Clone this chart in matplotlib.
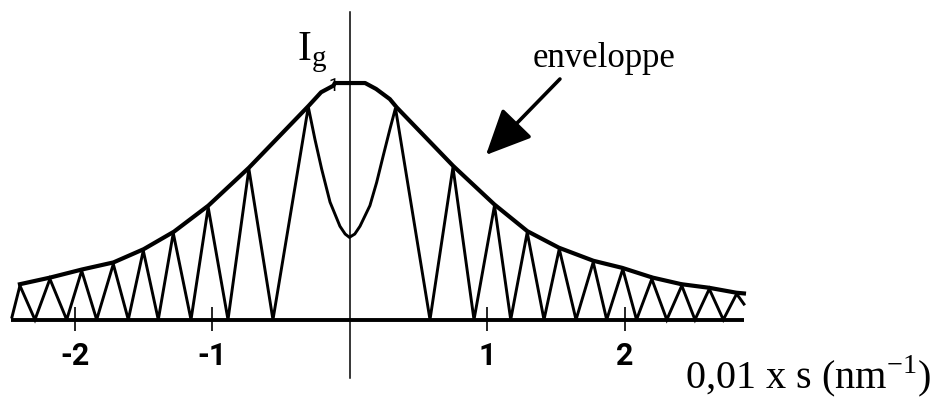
import matplotlib
matplotlib.use("Agg")
import matplotlib.pyplot as plt

plt.rcParams['font.family'] = ['Liberation Serif', 'DejaVu Serif']

# enveloppe (courbe lisse) : s en unites de 0,01 nm-1, I_g normalise
env_s = [-2.40, -2.18, -1.95, -1.72, -1.50, -1.28, -1.03, -0.735, -0.30,
         -0.21, -0.12, -0.11, 0.11, 0.19, 0.29, 0.34, 0.75, 1.05, 1.29,
         1.52, 1.77, 1.98, 2.20, 2.41, 2.61, 2.81, 2.865]
env_i = [0.150, 0.178, 0.212, 0.242, 0.298, 0.372, 0.482, 0.642, 0.904,
         0.961, 0.989, 1.0, 1.0, 0.975, 0.932, 0.897, 0.650, 0.487, 0.374,
         0.304, 0.249, 0.219, 0.178, 0.150, 0.135, 0.114, 0.111]

# intensite diffractee I_g(s) : zeros, maxima et forme du lobe central
ig_s = [-2.458, -2.40, -2.291, -2.182, -2.06, -1.951, -1.842, -1.721,
        -1.612, -1.503, -1.394, -1.285, -1.156, -1.031, -0.887, -0.735,
        -0.56, -0.303, -0.255, -0.206, -0.145, -0.073, -0.035, -0.004,
        0.035, 0.073, 0.145, 0.194, 0.242, 0.291, 0.331, 0.582, 0.749,
        0.902, 1.051, 1.169, 1.289, 1.411, 1.522, 1.644, 1.769, 1.867,
        1.984, 2.084, 2.195, 2.304, 2.413, 2.509, 2.613, 2.715, 2.812,
        2.865]
ig_i = [0.011, 0.144, 0.0, 0.172, 0.0, 0.207, 0.0, 0.235,
        0.0, 0.292, 0.0, 0.366, 0.0, 0.475, 0.0, 0.637,
        0.0, 0.899, 0.763, 0.637, 0.497, 0.395, 0.362, 0.348,
        0.362, 0.395, 0.482, 0.58, 0.693, 0.806, 0.894, 0.0, 0.644,
        0.0, 0.482, 0.0, 0.369, 0.0, 0.299, 0.0, 0.243, 0.0,
        0.214, 0.0, 0.172, 0.0, 0.144, 0.0, 0.13, 0.0, 0.109,
        0.066]

tick_pos = [-2, -1, 1, 2]
tick_txt = ['-2', '-1', '1', '2']
s_min, s_max = -2.465, 2.865

fig = plt.figure(figsize=(9.37, 4.02), dpi=100)
ax = fig.add_axes([0, 0, 1, 1])
ax.set_xlim(-2.545, 4.269)
ax.set_ylim(-0.3435, 1.355)
ax.axis('off')

# axes dessines a la main
ax.plot([s_min, s_max], [0, 0], color='black', lw=2.8, solid_capstyle='butt')
ax.plot([0, 0], [-0.245, 1.30], color='black', lw=1.1)
ax.vlines(tick_pos, -0.047, 0.052, color='black', lw=1.2)

ax.plot(ig_s, ig_i, color='black', lw=2.1, solid_joinstyle='miter')
ax.plot(env_s, env_i, color='black', lw=3.0, solid_joinstyle='round')

narrow = ['Roboto', 'DejaVu Sans']
for p, t in zip(tick_pos, tick_txt):
    ax.text(p, -0.148, t, family=narrow, fontsize=22, fontweight='bold',
            ha='center', va='center')
ax.text(-0.12, 0.99, '1', family=narrow, fontsize=13, ha='center',
        va='center')

ax.text(-0.385, 1.101, r'I$_{\mathregular{g}}$', fontsize=30, va='baseline')
ax.text(1.331, 1.073, 'enveloppe', fontsize=25, va='baseline')
ax.text(2.436, -0.286, r'0,01 x s (nm$^{\mathregular{-1}}$)', fontsize=29,
        va='baseline')

ax.annotate('', xy=(0.989, 0.696), xytext=(1.527, 1.017),
            arrowprops=dict(arrowstyle='-|>,head_length=1.4,head_width=0.65',
                            lw=2.6, color='black', mutation_scale=20,
                            shrinkA=0, shrinkB=0))

fig.savefig('out.png', dpi=100)
